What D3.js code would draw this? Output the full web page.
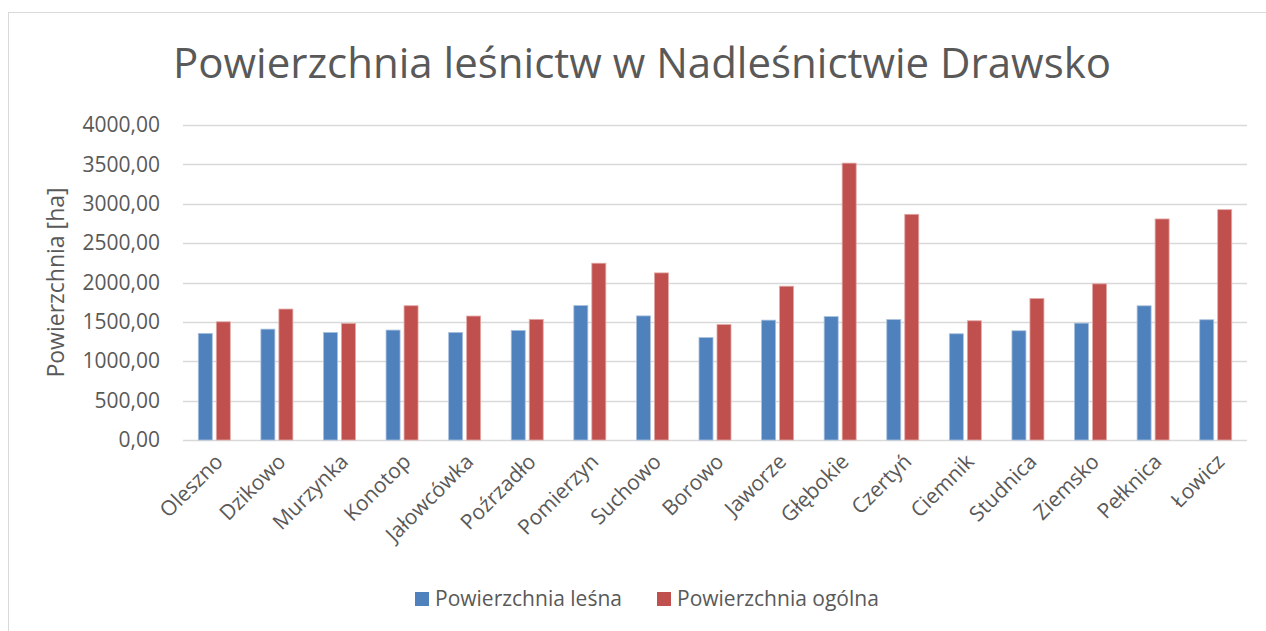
<!DOCTYPE html>
<html>
<head>
<meta charset="utf-8">
<script src="https://cdn.jsdelivr.net/npm/d3@7"></script>
<style>
  body { margin: 0; background: #fff; }
  text { font-family: "Open Sans", sans-serif; fill: #595959; }
</style>
</head>
<body>
<div id="chart"></div>
<script>
// dane
var categories = ["Oleszno", "Dzikowo", "Murzynka", "Konotop", "Jałowcówka", "Poźrzadło",
    "Pomierzyn", "Suchowo", "Borowo", "Jaworze", "Głębokie", "Czertyń", "Ciemnik",
    "Studnica", "Ziemsko", "Pełknica", "Łowicz"];
var lesna = [1354, 1408, 1366, 1396, 1366, 1392, 1707, 1576, 1301, 1522, 1567, 1529, 1349, 1387, 1484, 1704, 1527];
var ogolna = [1501, 1663, 1481, 1705, 1574, 1532, 2245, 2122, 1466, 1953, 3516, 2866, 1514, 1797, 1983, 2807, 2925];
var seriesNames = ["Powierzchnia leśna", "Powierzchnia ogólna"];
var seriesColors = ["#4F81BD", "#C0504D"];
var yTicks = [0, 500, 1000, 1500, 2000, 2500, 3000, 3500, 4000];

var W = 1266, H = 631;
var margin = { top: 125, right: 19, bottom: 191, left: 183 };
var width = W - margin.left - margin.right,
    height = H - margin.top - margin.bottom;

var svg = d3.select("#chart").append("svg")
    .attr("width", W)
    .attr("height", H);

// ramka wykresu
svg.append("rect")
    .attr("x", 8.5).attr("y", 12.5)
    .attr("width", 1300).attr("height", 700)
    .attr("fill", "none")
    .attr("stroke", "#d9d9d9");

svg.append("text")
    .attr("x", 642)
    .attr("y", 78)
    .attr("text-anchor", "middle")
    .style("font-size", "42px")
    .text("Powierzchnia leśnictw w Nadleśnictwie Drawsko");

var g = svg.append("g")
    .attr("transform", "translate(" + margin.left + "," + margin.top + ")");

var x0 = d3.scaleBand()
    .domain(categories)
    .range([0, width]);

var step = x0.step();
var x1 = d3.scaleBand()
    .domain(seriesNames)
    .range([step / 2 - 16, step / 2 + 16])
    .paddingInner(0.222);

var y = d3.scaleLinear()
    .domain([0, 4000])
    .range([height, 0]);

// linie siatki
g.selectAll(".grid")
    .data(yTicks)
    .enter().append("line")
    .attr("class", "grid")
    .attr("x1", 0)
    .attr("x2", width)
    .attr("y1", function(d) { return Math.round(y(d)) + 0.5; })
    .attr("y2", function(d) { return Math.round(y(d)) + 0.5; })
    .attr("stroke", "#d9d9d9")
    .attr("stroke-width", 1.3);

var yAxis = g.append("g")
    .call(d3.axisLeft(y).tickValues(yTicks).tickSize(0).tickPadding(23)
        .tickFormat(function(d) { return d3.format(".2f")(d).replace(".", ","); }));
yAxis.select(".domain").remove();
yAxis.selectAll("text")
    .style("font-size", "21px")
    .style("font-family", "'Open Sans', sans-serif")
    .attr("fill", "#595959");

svg.append("text")
    .attr("transform", "translate(64," + (margin.top + height / 2) + ") rotate(-90)")
    .attr("text-anchor", "middle")
    .style("font-size", "23px")
    .text("Powierzchnia [ha]");

var data = categories.map(function(c, i) {
    return { cat: c, vals: [lesna[i], ogolna[i]] };
});

var groups = g.selectAll(".grp")
    .data(data)
    .enter().append("g")
    .attr("class", "grp")
    .attr("transform", function(d) { return "translate(" + x0(d.cat) + ",0)"; });

groups.selectAll("rect")
    .data(function(d) {
        return d.vals.map(function(v, j) { return { s: seriesNames[j], v: v, j: j }; });
    })
    .enter().append("rect")
    .attr("x", function(d) { return x1(d.s); })
    .attr("width", x1.bandwidth())
    .attr("y", function(d) { return y(d.v); })
    .attr("height", function(d) { return y(0) - y(d.v); })
    .attr("fill", function(d) { return seriesColors[d.j]; })
    .attr("stroke", function(d) { return d.j == 0 ? "#a9c1de" : "#e2a9a7"; })
    .attr("stroke-width", 0.8);

// etykiety osi X
g.selectAll(".xlab")
    .data(categories)
    .enter().append("text")
    .attr("class", "xlab")
    .attr("text-anchor", "end")
    .attr("transform", function(d) {
        return "translate(" + (x0(d) + step / 2 + 10) + "," + (height + 23) + ") rotate(-45)";
    })
    .style("font-size", "21px")
    .text(function(d) { return d; });

// legenda
var legendX = [415, 657];
var legend = svg.selectAll(".leg")
    .data(seriesNames)
    .enter().append("g")
    .attr("class", "leg")
    .attr("transform", function(d, i) { return "translate(" + legendX[i] + ",592)"; });

legend.append("rect")
    .attr("width", 14).attr("height", 14)
    .attr("fill", function(d, i) { return seriesColors[i]; });

legend.append("text")
    .attr("x", 20)
    .attr("y", 14)
    .style("font-size", "21px")
    .text(function(d) { return d; });
</script>
</body>
</html>
